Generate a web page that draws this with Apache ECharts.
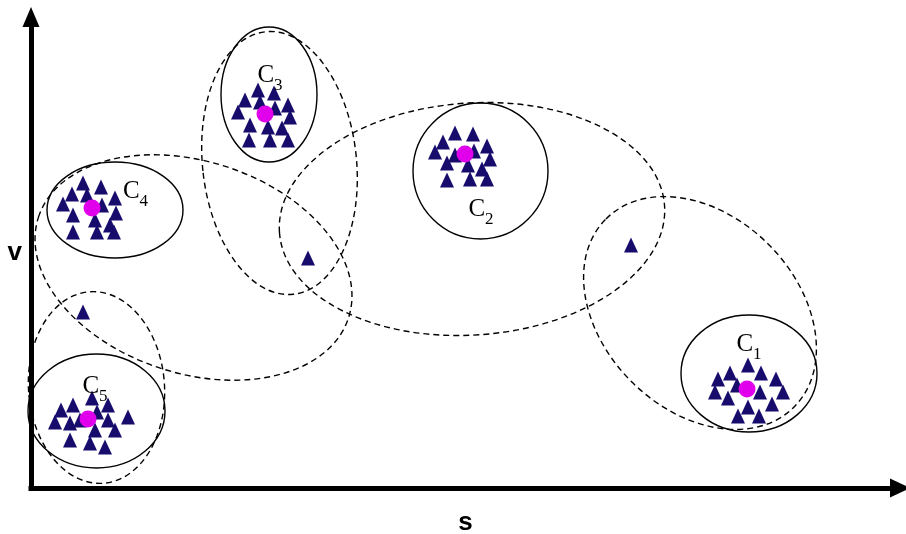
<!DOCTYPE html>
<html>
<head>
<meta charset="utf-8">
<script src="https://cdn.jsdelivr.net/npm/echarts@6/dist/echarts.min.js"></script>
<style>
  html, body { margin: 0; padding: 0; background: #fff; }
  #chart { width: 906px; height: 534px; }
</style>
</head>
<body>
<div id="chart"></div>
<script>
// Points of each cluster in (s, v) units
const cluster1 = [[717,123],[699,115],[730,115],[687,109],[745,109],[706,103],[729,96],[752,96],[684,96],[697,90],[717,81],[741,84],[707,72],[728,72]];
const cluster2 = [[424,355],[442,354],[412,346],[456,342],[404,336],[443,337],[424,333],[416,325],[459,329],[437,323],[451,319],[416,308],[439,309],[456,309]];
const cluster3 = [[227,398],[243,395],[214,388],[229,386],[257,383],[244,380],[207,376],[259,371],[219,363],[237,361],[251,360],[218,348],[239,348],[257,348]];
const cluster4 = [[52,305],[70,301],[41,294],[56,293],[84,290],[32,284],[71,283],[42,273],[64,268],[85,275],[79,263],[42,256],[66,256],[83,256]];
const cluster5 = [[61,90],[42,83],[77,83],[30,78],[66,76],[97,71],[24,66],[39,65],[49,68],[77,68],[64,58],[84,58],[39,48],[59,45],[74,41]];
const outliers = [[52,176],[277,230],[600,243]];

// Cluster centres
const centers = [[716,99],[434,334],[234,374],[61,280],[57,69]];

// Cluster boundaries: [cx, cy, rx, ry, angle in degrees]
const clusterRings = [[718,114.5,68,58.5,0],[449.5,317,67.5,68,0],[238,393.5,48,67.5,0],[84,278,68,48,0],[65.5,77,68.5,57,0]];
// Merged-group boundaries
const groupRings = [[669,175,133,97,-45],[441,269,193,116,4],[248.5,325,77,132,6],[162.5,220.5,163,106,-18],[65.5,100.5,68,96,4]];

// Cluster names and the positions of their labels
const clusterNames = ['1','2','3','4','5'];
const labelPos = [[718,145],[450,280],[239,414],[104.5,298],[64,103]];

const sMax = 869;
const vMax = 471;

const triColor = '#170c6c';
const centerColor = '#e000ec';

function ellipseItem(dash) {
  return function (params, api) {
    const c = api.coord([api.value(0), api.value(1)]);
    const s = api.size([api.value(2), api.value(3)]);
    return {
      type: 'ellipse',
      x: c[0],
      y: c[1],
      rotation: api.value(4) * Math.PI / 180,
      shape: { cx: 0, cy: 0, rx: s[0], ry: s[1] },
      style: {
        fill: 'none',
        stroke: '#000',
        lineWidth: 1.4,
        lineDash: dash
      }
    };
  };
}

const pointSeries = [cluster1, cluster2, cluster3, cluster4, cluster5, outliers].map(function (d) {
  return {
    type: 'scatter',
    data: d,
    symbol: 'triangle',
    symbolSize: [14, 15],
    itemStyle: { color: triColor, opacity: 1 },
    z: 3,
    silent: true
  };
});

const chart = echarts.init(document.getElementById('chart'), null, { renderer: 'canvas' });
chart.setOption({
  animation: false,
  backgroundColor: '#fff',
  grid: { left: 31, right: 6, top: 17, bottom: 46, outerBoundsMode: 'none', containLabel: false },
  xAxis: {
    type: 'value',
    min: 0,
    max: sMax,
    name: 's',
    nameLocation: 'middle',
    nameGap: 22,
    nameTextStyle: { fontFamily: 'Liberation Sans', fontWeight: 'bold', fontSize: 26, color: '#000' },
    axisLine: {
      show: true,
      onZero: false,
      symbol: ['none', 'triangle'],
      symbolSize: [19, 20],
      lineStyle: { color: '#000', width: 5, cap: 'square' }
    },
    axisTick: { show: false },
    axisLabel: { show: false },
    splitLine: { show: false }
  },
  yAxis: {
    type: 'value',
    min: 0,
    max: vMax,
    name: 'v',
    nameLocation: 'middle',
    nameRotate: 0,
    nameGap: 9,
    nameTextStyle: { fontFamily: 'Liberation Sans', fontWeight: 'bold', fontSize: 26, color: '#000' },
    axisLine: {
      show: true,
      onZero: false,
      symbol: ['none', 'triangle'],
      symbolSize: [17, 20],
      lineStyle: { color: '#000', width: 5, cap: 'square' }
    },
    axisTick: { show: false },
    axisLabel: { show: false },
    splitLine: { show: false }
  },
  series: [
    {
      type: 'custom',
      data: groupRings,
      encode: { x: 0, y: 1 },
      renderItem: ellipseItem([6, 4]),
      clip: false,
      silent: true,
      z: 1
    },
    {
      type: 'custom',
      data: clusterRings,
      encode: { x: 0, y: 1 },
      renderItem: ellipseItem(null),
      clip: false,
      silent: true,
      z: 1
    }
  ].concat(pointSeries).concat([
    {
      type: 'scatter',
      data: centers,
      symbol: 'circle',
      symbolSize: 17,
      itemStyle: { color: centerColor, opacity: 1 },
      z: 4,
      silent: true
    },
    {
      type: 'scatter',
      data: labelPos.map(function (p, i) { return { value: p, name: clusterNames[i] }; }),
      symbolSize: 0,
      itemStyle: { opacity: 1 },
      silent: true,
      z: 5,
      label: {
        show: true,
        position: 'inside',
        formatter: function (p) { return '{c|C}{n|' + p.name + '}'; },
        rich: {
          c: { fontFamily: 'Liberation Serif', fontSize: 25, color: '#000', lineHeight: 28, verticalAlign: 'bottom' },
          n: { fontFamily: 'Liberation Serif', fontSize: 17, color: '#000', lineHeight: 22, verticalAlign: 'bottom', padding: [0, 0, -6, 0] }
        }
      }
    }
  ])
});
</script>
</body>
</html>
